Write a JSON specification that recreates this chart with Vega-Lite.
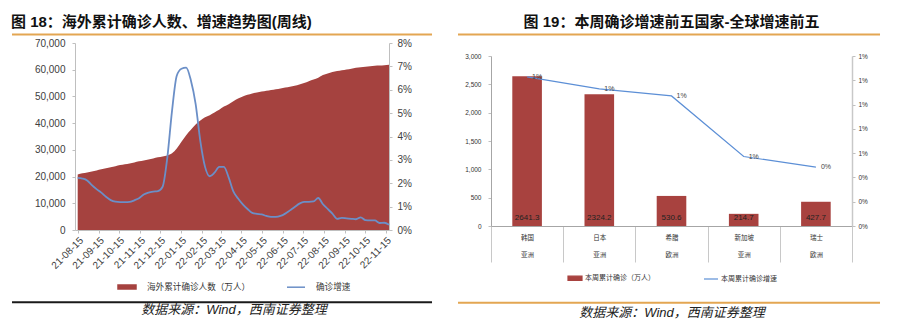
{
  "$schema": "https://vega.github.io/schema/vega-lite/v6.json",
  "padding": {"left": 11, "top": 14, "right": 5, "bottom": 5},
  "bounds": "flush",
  "spacing": 102,
  "resolve": {"scale": {"color": "independent"}, "legend": {"color": "independent"}},
  "config": {
    "font": "Liberation Sans, Noto Sans CJK SC",
    "view": {"stroke": null},
    "axis": {"grid": false, "domainColor": "#bfbfbf", "tickColor": "#bfbfbf", "labelColor": "#404040", "labelOverlap": false}
  },
  "hconcat": [
    {
      "width": 314,
      "height": 187,
      "title": {"text": "图 18：海外累计确诊人数、增速趋势图(周线)", "anchor": "start", "frame": "bounds", "fontSize": 15, "fontWeight": "bold", "color": "#111111", "offset": 4},
      "data": {"values": [
        {"d": "2021-08-15", "c": 20800, "r": 0.0223},
        {"d": "2021-08-22", "c": 21200, "r": 0.0220},
        {"d": "2021-08-29", "c": 21500, "r": 0.0212},
        {"d": "2021-09-05", "c": 21900, "r": 0.0192},
        {"d": "2021-09-12", "c": 22300, "r": 0.0175},
        {"d": "2021-09-19", "c": 22700, "r": 0.0160},
        {"d": "2021-09-26", "c": 23100, "r": 0.0142},
        {"d": "2021-10-03", "c": 23500, "r": 0.0128},
        {"d": "2021-10-10", "c": 23900, "r": 0.0121},
        {"d": "2021-10-17", "c": 24300, "r": 0.0119},
        {"d": "2021-10-24", "c": 24600, "r": 0.0119},
        {"d": "2021-10-31", "c": 24900, "r": 0.0120},
        {"d": "2021-11-07", "c": 25300, "r": 0.0127},
        {"d": "2021-11-14", "c": 25700, "r": 0.0136},
        {"d": "2021-11-21", "c": 26000, "r": 0.0152},
        {"d": "2021-11-28", "c": 26400, "r": 0.0160},
        {"d": "2021-12-05", "c": 26800, "r": 0.0164},
        {"d": "2021-12-12", "c": 27200, "r": 0.0166},
        {"d": "2021-12-19", "c": 27500, "r": 0.0185},
        {"d": "2021-12-26", "c": 27900, "r": 0.0310},
        {"d": "2022-01-02", "c": 28700, "r": 0.0510},
        {"d": "2022-01-09", "c": 30500, "r": 0.0660},
        {"d": "2022-01-16", "c": 33000, "r": 0.0690},
        {"d": "2022-01-23", "c": 35500, "r": 0.0695},
        {"d": "2022-01-30", "c": 37500, "r": 0.0640},
        {"d": "2022-02-06", "c": 39500, "r": 0.0540},
        {"d": "2022-02-13", "c": 41000, "r": 0.0380},
        {"d": "2022-02-20", "c": 42200, "r": 0.0270},
        {"d": "2022-02-27", "c": 43000, "r": 0.0230},
        {"d": "2022-03-06", "c": 44000, "r": 0.0245},
        {"d": "2022-03-13", "c": 45000, "r": 0.0270},
        {"d": "2022-03-20", "c": 46200, "r": 0.0270},
        {"d": "2022-03-27", "c": 47100, "r": 0.0225},
        {"d": "2022-04-03", "c": 48200, "r": 0.0165},
        {"d": "2022-04-10", "c": 49200, "r": 0.0135},
        {"d": "2022-04-17", "c": 50000, "r": 0.0110},
        {"d": "2022-04-24", "c": 50600, "r": 0.0090},
        {"d": "2022-05-01", "c": 51100, "r": 0.0073},
        {"d": "2022-05-08", "c": 51500, "r": 0.0069},
        {"d": "2022-05-15", "c": 51800, "r": 0.0067},
        {"d": "2022-05-22", "c": 52100, "r": 0.0060},
        {"d": "2022-05-29", "c": 52400, "r": 0.0056},
        {"d": "2022-06-05", "c": 52700, "r": 0.0056},
        {"d": "2022-06-12", "c": 53000, "r": 0.0060},
        {"d": "2022-06-19", "c": 53300, "r": 0.0070},
        {"d": "2022-06-26", "c": 53600, "r": 0.0084},
        {"d": "2022-07-03", "c": 54000, "r": 0.0098},
        {"d": "2022-07-10", "c": 54500, "r": 0.0113},
        {"d": "2022-07-17", "c": 55000, "r": 0.0120},
        {"d": "2022-07-24", "c": 55700, "r": 0.0120},
        {"d": "2022-07-31", "c": 56300, "r": 0.0122},
        {"d": "2022-08-07", "c": 57000, "r": 0.0137},
        {"d": "2022-08-14", "c": 58000, "r": 0.0110},
        {"d": "2022-08-21", "c": 58600, "r": 0.0090},
        {"d": "2022-08-28", "c": 59100, "r": 0.0070},
        {"d": "2022-09-04", "c": 59500, "r": 0.0048},
        {"d": "2022-09-11", "c": 59800, "r": 0.0052},
        {"d": "2022-09-18", "c": 60100, "r": 0.0050},
        {"d": "2022-09-25", "c": 60400, "r": 0.0048},
        {"d": "2022-10-02", "c": 60700, "r": 0.0046},
        {"d": "2022-10-09", "c": 60900, "r": 0.0054},
        {"d": "2022-10-16", "c": 61100, "r": 0.0042},
        {"d": "2022-10-23", "c": 61300, "r": 0.0041},
        {"d": "2022-10-30", "c": 61500, "r": 0.0041},
        {"d": "2022-11-06", "c": 61600, "r": 0.0030},
        {"d": "2022-11-13", "c": 61700, "r": 0.0031},
        {"d": "2022-11-20", "c": 61900, "r": 0.0022}
      ]},
      "layer": [
        {
          "mark": {"type": "area", "interpolate": "monotone"},
          "encoding": {
            "x": {
              "field": "d", "type": "temporal",
              "scale": {"type": "utc", "domain": [{"year": 2021, "month": 8, "date": 11, "utc": true}, {"year": 2022, "month": 11, "date": 20, "utc": true}]},
              "axis": {
                "title": null, "format": "%y-%m-%d", "labelAngle": -45, "labelFontSize": 10, "tickSize": 3, "labelPadding": 2, "labelOverlap": false, "labelFlush": false,
                "values": [
                  {"year": 2021, "month": 8, "date": 15, "utc": true},
                  {"year": 2021, "month": 9, "date": 15, "utc": true},
                  {"year": 2021, "month": 10, "date": 15, "utc": true},
                  {"year": 2021, "month": 11, "date": 15, "utc": true},
                  {"year": 2021, "month": 12, "date": 15, "utc": true},
                  {"year": 2022, "month": 1, "date": 15, "utc": true},
                  {"year": 2022, "month": 2, "date": 15, "utc": true},
                  {"year": 2022, "month": 3, "date": 15, "utc": true},
                  {"year": 2022, "month": 4, "date": 15, "utc": true},
                  {"year": 2022, "month": 5, "date": 15, "utc": true},
                  {"year": 2022, "month": 6, "date": 15, "utc": true},
                  {"year": 2022, "month": 7, "date": 15, "utc": true},
                  {"year": 2022, "month": 8, "date": 15, "utc": true},
                  {"year": 2022, "month": 9, "date": 15, "utc": true},
                  {"year": 2022, "month": 10, "date": 15, "utc": true},
                  {"year": 2022, "month": 11, "date": 15, "utc": true}
                ]
              }
            },
            "y": {
              "field": "c", "type": "quantitative",
              "scale": {"domain": [0, 70000], "nice": false},
              "axis": {"title": null, "values": [0, 10000, 20000, 30000, 40000, 50000, 60000, 70000], "format": ",.0f", "labelFontSize": 10, "tickSize": 3, "labelPadding": 7, "labelOverlap": false}
            },
            "color": {
              "datum": "海外累计确诊人数（万人）",
              "scale": {"domain": ["海外累计确诊人数（万人）", "确诊增速"], "range": ["#A5423F", "#6B8FC7"]},
              "legend": {
                "orient": "none", "legendX": 42, "legendY": 234, "direction": "horizontal",
                "title": "数据来源：Wind，西南证券整理", "titleOrient": "bottom", "titleAnchor": "middle", "titleLimit": 500,
                "titleFontSize": 13, "titleFontStyle": "italic", "titleFontWeight": "normal", "titleColor": "#222222", "titlePadding": 12,
                "labelFontSize": 8.6, "labelColor": "#333333", "columnPadding": 33, "symbolSize": 324, "labelOffset": 10, "labelLimit": 300,
                "encode": {"symbols": {"update": {
                  "shape": {"signal": "datum.index === 0 ? 'M-1,-0.22H1V0.22H-1Z' : 'M-1,0H1'"},
                  "fill": {"signal": "datum.index === 0 ? '#A5423F' : 'transparent'"},
                  "stroke": {"signal": "datum.index === 0 ? '#A5423F' : '#6B8FC7'"},
                  "strokeWidth": {"value": 1.5}
                }}}
              }
            }
          }
        },
        {
          "mark": {"type": "line", "interpolate": "monotone", "strokeWidth": 1.8},
          "encoding": {
            "x": {
              "field": "d", "type": "temporal",
              "scale": {"type": "utc", "domain": [{"year": 2021, "month": 8, "date": 11, "utc": true}, {"year": 2022, "month": 11, "date": 20, "utc": true}]},
              "axis": null
            },
            "y": {
              "field": "r", "type": "quantitative",
              "scale": {"domain": [0, 0.08], "nice": false},
              "axis": {"orient": "right", "title": null, "values": [0, 0.01, 0.02, 0.03, 0.04, 0.05, 0.06, 0.07, 0.08], "format": ".0%", "labelFontSize": 10, "tickSize": 3, "labelPadding": 5, "labelOverlap": false}
            },
            "color": {"datum": "确诊增速"}
          }
        },
        {
          "data": {"values": [{"part": "top"}]},
          "mark": {"type": "rule", "color": "#E3A652", "strokeWidth": 2},
          "encoding": {
            "x": {"datum": -0.2006, "type": "quantitative", "scale": {"domain": [0, 1], "nice": false, "zero": false}, "axis": null},
            "x2": {"datum": 1.137},
            "y": {"datum": 1.0449, "type": "quantitative", "scale": {"domain": [0, 1], "nice": false}, "axis": null}
          }
        },
        {
          "data": {"values": [{"part": "bottom"}]},
          "mark": {"type": "rule", "color": "#1a1a1a", "strokeWidth": 2},
          "encoding": {
            "x": {"datum": -0.2006, "type": "quantitative", "scale": {"domain": [0, 1], "nice": false, "zero": false}, "axis": null},
            "x2": {"datum": 1.137},
            "y": {"datum": -0.3866, "type": "quantitative", "scale": {"domain": [0, 1], "nice": false}, "axis": null}
          }
        }
      ],
      "resolve": {"scale": {"x": "independent", "y": "independent"}}
    },
    {
      "width": 361,
      "height": 183,
      "title": {"text": "图 19：本周确诊增速前五国家-全球增速前五", "anchor": "middle", "frame": "group", "fontSize": 15, "fontWeight": "bold", "color": "#111111", "offset": 4},
      "data": {"values": [
        {"cat": "韩国|亚洲", "v": 2641.3, "g": 0.01228},
        {"cat": "日本|亚洲", "v": 2324.2, "g": 0.0113},
        {"cat": "希腊|欧洲", "v": 530.6, "g": 0.01071},
        {"cat": "新加坡|亚洲", "v": 214.7, "g": 0.00572},
        {"cat": "瑞士|欧洲", "v": 427.7, "g": 0.00485}
      ]},
      "layer": [
        {
          "mark": {"type": "bar", "width": {"band": 0.41}},
          "encoding": {
            "x": {
              "field": "cat", "type": "nominal", "sort": null,
              "scale": {"paddingInner": 0, "paddingOuter": 0},
              "axis": {"title": null, "labelExpr": "split(datum.label, '|')", "labelAngle": 0, "labelFontSize": 6.5, "labelLineHeight": 17, "labelPadding": -28, "tickBand": "extent", "tickSize": 36, "tickColor": "#c8c8c8", "domainColor": "#a6a6a6", "labelColor": "#333333", "labelOverlap": false}
            },
            "y": {
              "field": "v", "type": "quantitative",
              "scale": {"domain": [0, 3000], "range": [183, 13], "nice": false},
              "axis": {"title": null, "values": [0, 500, 1000, 1500, 2000, 2500, 3000], "format": ",.0f", "labelFontSize": 6.5, "tickSize": 3, "labelPadding": 7, "domainColor": "#a6a6a6", "labelColor": "#333333", "labelOverlap": false}
            },
            "color": {
              "datum": "本周累计确诊（万人）",
              "scale": {"domain": ["本周累计确诊（万人）", "本周累计确诊增速"], "range": ["#A8423F", "#5C8FD6"]},
              "legend": {
                "orient": "none", "legendX": 76, "legendY": 227, "direction": "horizontal",
                "title": "数据来源：Wind，西南证券整理", "titleOrient": "bottom", "titleAnchor": "middle", "titleLimit": 500,
                "titleFontSize": 13, "titleFontStyle": "italic", "titleFontWeight": "normal", "titleColor": "#222222", "titlePadding": 24,
                "labelFontSize": 7, "labelColor": "#333333", "columnPadding": 46, "symbolSize": 196, "labelOffset": 2, "labelLimit": 300,
                "encode": {"symbols": {"update": {
                  "shape": {"signal": "datum.index === 0 ? 'M-1,-0.3H1V0.3H-1Z' : 'M-1,0H1'"},
                  "fill": {"signal": "datum.index === 0 ? '#A8423F' : 'transparent'"},
                  "stroke": {"signal": "datum.index === 0 ? '#A8423F' : '#5C8FD6'"},
                  "strokeWidth": {"value": 1.2}
                }}}
              }
            }
          }
        },
        {
          "mark": {"type": "text", "baseline": "bottom", "dy": -4, "fontSize": 8, "color": "#222222"},
          "encoding": {
            "x": {"field": "cat", "type": "nominal", "sort": null, "scale": {"paddingInner": 0, "paddingOuter": 0}, "axis": null},
            "y": {"datum": 0, "type": "quantitative", "scale": {"domain": [0, 3000], "range": [183, 13], "nice": false}, "axis": null},
            "text": {"field": "v", "type": "quantitative", "format": ".1f"}
          }
        },
        {
          "mark": {"type": "line", "strokeWidth": 1.2},
          "encoding": {
            "x": {"field": "cat", "type": "nominal", "sort": null, "scale": {"paddingInner": 0, "paddingOuter": 0}, "axis": null},
            "y": {
              "field": "g", "type": "quantitative",
              "scale": {"domain": [0, 0.014], "range": [183, 13], "nice": false},
              "axis": {"orient": "right", "title": null, "values": [0, 0.002, 0.004, 0.006, 0.008, 0.01, 0.012, 0.014], "format": ".0%", "labelFontSize": 6.5, "tickSize": 3, "labelPadding": 3, "domainColor": "#c8c8c8", "domainWidth": 1.5, "labelColor": "#333333", "labelOverlap": false}
            },
            "color": {"datum": "本周累计确诊增速"}
          }
        },
        {
          "mark": {"type": "text", "align": "left", "dx": 5, "fontSize": 7, "color": "#444444"},
          "encoding": {
            "x": {"field": "cat", "type": "nominal", "sort": null, "scale": {"paddingInner": 0, "paddingOuter": 0}, "axis": null},
            "y": {"field": "g", "type": "quantitative", "scale": {"domain": [0, 0.014], "range": [183, 13], "nice": false}, "axis": null},
            "text": {"field": "g", "type": "quantitative", "format": ".0%"}
          }
        },
        {
          "data": {"values": [{"part": "top"}]},
          "mark": {"type": "rule", "color": "#E3A652", "strokeWidth": 2},
          "encoding": {
            "x": {"datum": -0.0914, "type": "quantitative", "scale": {"domain": [0, 1], "nice": false, "zero": false}, "axis": null},
            "x2": {"datum": 1.0776},
            "y": {"datum": 3378, "type": "quantitative", "scale": {"domain": [0, 3000], "range": [183, 13], "nice": false}, "axis": null}
          }
        },
        {
          "data": {"values": [{"part": "bottom"}]},
          "mark": {"type": "rule", "color": "#E3A652", "strokeWidth": 2},
          "encoding": {
            "x": {"datum": -0.0914, "type": "quantitative", "scale": {"domain": [0, 1], "nice": false, "zero": false}, "axis": null},
            "x2": {"datum": 1.0776},
            "y": {"datum": -1355, "type": "quantitative", "scale": {"domain": [0, 3000], "range": [183, 13], "nice": false}, "axis": null}
          }
        }
      ],
      "resolve": {"scale": {"x": "independent", "y": "independent"}}
    }
  ]
}
